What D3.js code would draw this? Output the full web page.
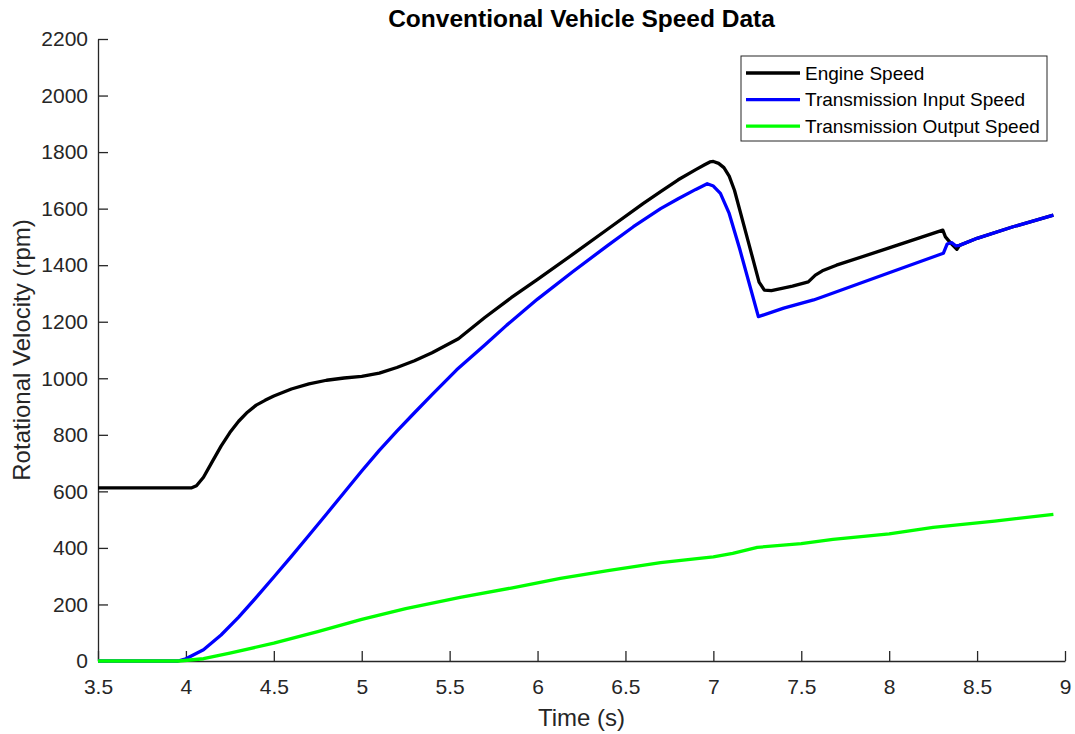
<!DOCTYPE html>
<html>
<head>
<meta charset="utf-8">
<script src="https://cdn.jsdelivr.net/npm/d3@7"></script>
<style>
  body { margin: 0; background: #fff; }
  svg { font-family: "Liberation Sans", Arial, sans-serif; }
</style>
</head>
<body>
<svg id="chart"></svg>
<script>
const width = 1075;
const height = 734;
const margin = { top: 39, right: 10, bottom: 73, left: 98 };

const xTicks = [3.5, 4, 4.5, 5, 5.5, 6, 6.5, 7, 7.5, 8, 8.5, 9];
const yTicks = [0, 200, 400, 600, 800, 1000, 1200, 1400, 1600, 1800, 2000, 2200];

const seriesNames = ["Engine Speed", "Transmission Input Speed", "Transmission Output Speed"];
const seriesColors = ["#000000", "#0000ff", "#00ff00"];

// values (time in s, speed in rpm)
const engineTime = [3.5, 4.03, 4.06, 4.1, 4.15, 4.2, 4.25, 4.3, 4.35, 4.4, 4.45, 4.5, 4.6, 4.7, 4.8, 4.9, 5.0, 5.1, 5.2, 5.3, 5.4, 5.55, 5.7, 5.85, 6.0, 6.2, 6.4, 6.6, 6.7, 6.8, 6.9, 6.95, 6.98, 7.0, 7.03, 7.06, 7.09, 7.12, 7.2, 7.26, 7.29, 7.33, 7.45, 7.54, 7.58, 7.62, 7.7, 8.0, 8.305, 8.32, 8.35, 8.385, 8.4, 8.5, 8.7, 8.934];
const engineSpeed = [612, 612, 620, 650, 705, 760, 808, 848, 880, 905, 922, 937, 962, 980, 993, 1001, 1007, 1018, 1038, 1062, 1090, 1140, 1215, 1285, 1350, 1438, 1528, 1618, 1660, 1702, 1738, 1755, 1765, 1767, 1760, 1745, 1715, 1665, 1480, 1340, 1312, 1310, 1326, 1341, 1365, 1380, 1400, 1461, 1524, 1500, 1478, 1456, 1470, 1495, 1535, 1577];

const inputTime = [3.5, 3.955, 4.0, 4.1, 4.2, 4.3, 4.4, 4.5, 4.6, 4.7, 4.8, 4.9, 5.0, 5.1, 5.2, 5.3, 5.4, 5.54, 5.7, 5.825, 6.0, 6.2, 6.4, 6.545, 6.7, 6.8, 6.9, 6.965, 7.0, 7.04, 7.09, 7.15, 7.256, 7.4, 7.57, 7.63, 8.0, 8.308, 8.33, 8.355, 8.38, 8.4, 8.5, 8.7, 8.934];
const inputSpeed = [0, 0, 8, 40, 92, 155, 225, 297, 370, 445, 520, 596, 672, 745, 813, 878, 942, 1030, 1118, 1188, 1280, 1377, 1470, 1536, 1600, 1635, 1668, 1688, 1680, 1654, 1583, 1457, 1218, 1248, 1277, 1290, 1373, 1442, 1475, 1480, 1468, 1470, 1495, 1535, 1577];

const outputTime = [3.5, 3.96, 4.1, 4.25, 4.5, 4.75, 5.0, 5.25, 5.56, 5.85, 6.13, 6.4, 6.7, 6.92, 7.0, 7.11, 7.25, 7.5, 7.68, 8.0, 8.25, 8.6, 8.934];
const outputSpeed = [0, 0, 8, 28, 63, 104, 147, 185, 225, 258, 292, 320, 348, 363, 368, 381, 402, 415, 430, 450, 473, 495, 519];

const series = [
  { name: seriesNames[0], color: seriesColors[0], values: engineTime.map((t, i) => [t, engineSpeed[i]]) },
  { name: seriesNames[1], color: seriesColors[1], values: inputTime.map((t, i) => [t, inputSpeed[i]]) },
  { name: seriesNames[2], color: seriesColors[2], values: outputTime.map((t, i) => [t, outputSpeed[i]]) }
];

const svg = d3.select("#chart").attr("width", width).attr("height", height);

const x = d3.scaleLinear().domain([3.5, 9]).range([margin.left, width - margin.right]);
const y = d3.scaleLinear().domain([0, 2200]).range([height - margin.bottom, margin.top]);

// axes with inward ticks, matlab style
const xAxis = svg
  .append("g")
  .attr("transform", `translate(0, ${height - margin.bottom})`)
  .call(
    d3.axisBottom(x)
      .tickValues(xTicks)
      .tickFormat(d => d)
      .tickSizeInner(-10)
      .tickSizeOuter(0)
      .tickPadding(18)
  );

const yAxis = svg
  .append("g")
  .attr("transform", `translate(${margin.left}, 0)`)
  .call(
    d3.axisLeft(y)
      .tickValues(yTicks)
      .tickFormat(d => d)
      .tickSizeInner(-10)
      .tickSizeOuter(0)
      .tickPadding(10)
  );

[xAxis, yAxis].forEach(g => {
  g.select(".domain").attr("stroke", "#262626").attr("stroke-width", 1.3);
  g.selectAll(".tick line").attr("stroke", "#262626").attr("stroke-width", 1.3);
  g.selectAll(".tick text").attr("fill", "#262626").style("font-size", "21px");
});

// lines
const line = d3.line().x(d => x(d[0])).y(d => y(d[1]));

svg
  .append("g")
  .selectAll("path")
  .data(series)
  .join("path")
  .attr("d", d => line(d.values))
  .attr("fill", "none")
  .attr("stroke", d => d.color)
  .attr("stroke-width", 3.3)
  .attr("stroke-linejoin", "round");

// title and axis labels
svg
  .append("text")
  .attr("x", (margin.left + width - margin.right) / 2)
  .attr("y", 27)
  .attr("text-anchor", "middle")
  .style("font-size", "24.5px")
  .style("font-weight", "bold")
  .text("Conventional Vehicle Speed Data");

svg
  .append("text")
  .attr("x", (margin.left + width - margin.right) / 2)
  .attr("y", 726)
  .attr("text-anchor", "middle")
  .attr("fill", "#262626")
  .style("font-size", "24px")
  .text("Time (s)");

svg
  .append("text")
  .attr("transform", `translate(30, ${(margin.top + height - margin.bottom) / 2}) rotate(-90)`)
  .attr("text-anchor", "middle")
  .attr("fill", "#262626")
  .style("font-size", "24px")
  .text("Rotational Velocity (rpm)");

// legend
const legend = svg.append("g").attr("transform", "translate(741, 56)");

legend
  .append("rect")
  .attr("width", 306)
  .attr("height", 85)
  .attr("fill", "#fff")
  .attr("stroke", "#262626")
  .attr("stroke-width", 1);

const legendItem = legend
  .selectAll("g")
  .data(series)
  .join("g")
  .attr("transform", (d, i) => `translate(0, ${17 + i * 26.6})`);

legendItem
  .append("line")
  .attr("x1", 5)
  .attr("x2", 59)
  .attr("stroke", d => d.color)
  .attr("stroke-width", 3.3);

legendItem
  .append("text")
  .attr("x", 64)
  .attr("dy", "0.35em")
  .style("font-size", "19px")
  .text(d => d.name);
</script>
</body>
</html>
